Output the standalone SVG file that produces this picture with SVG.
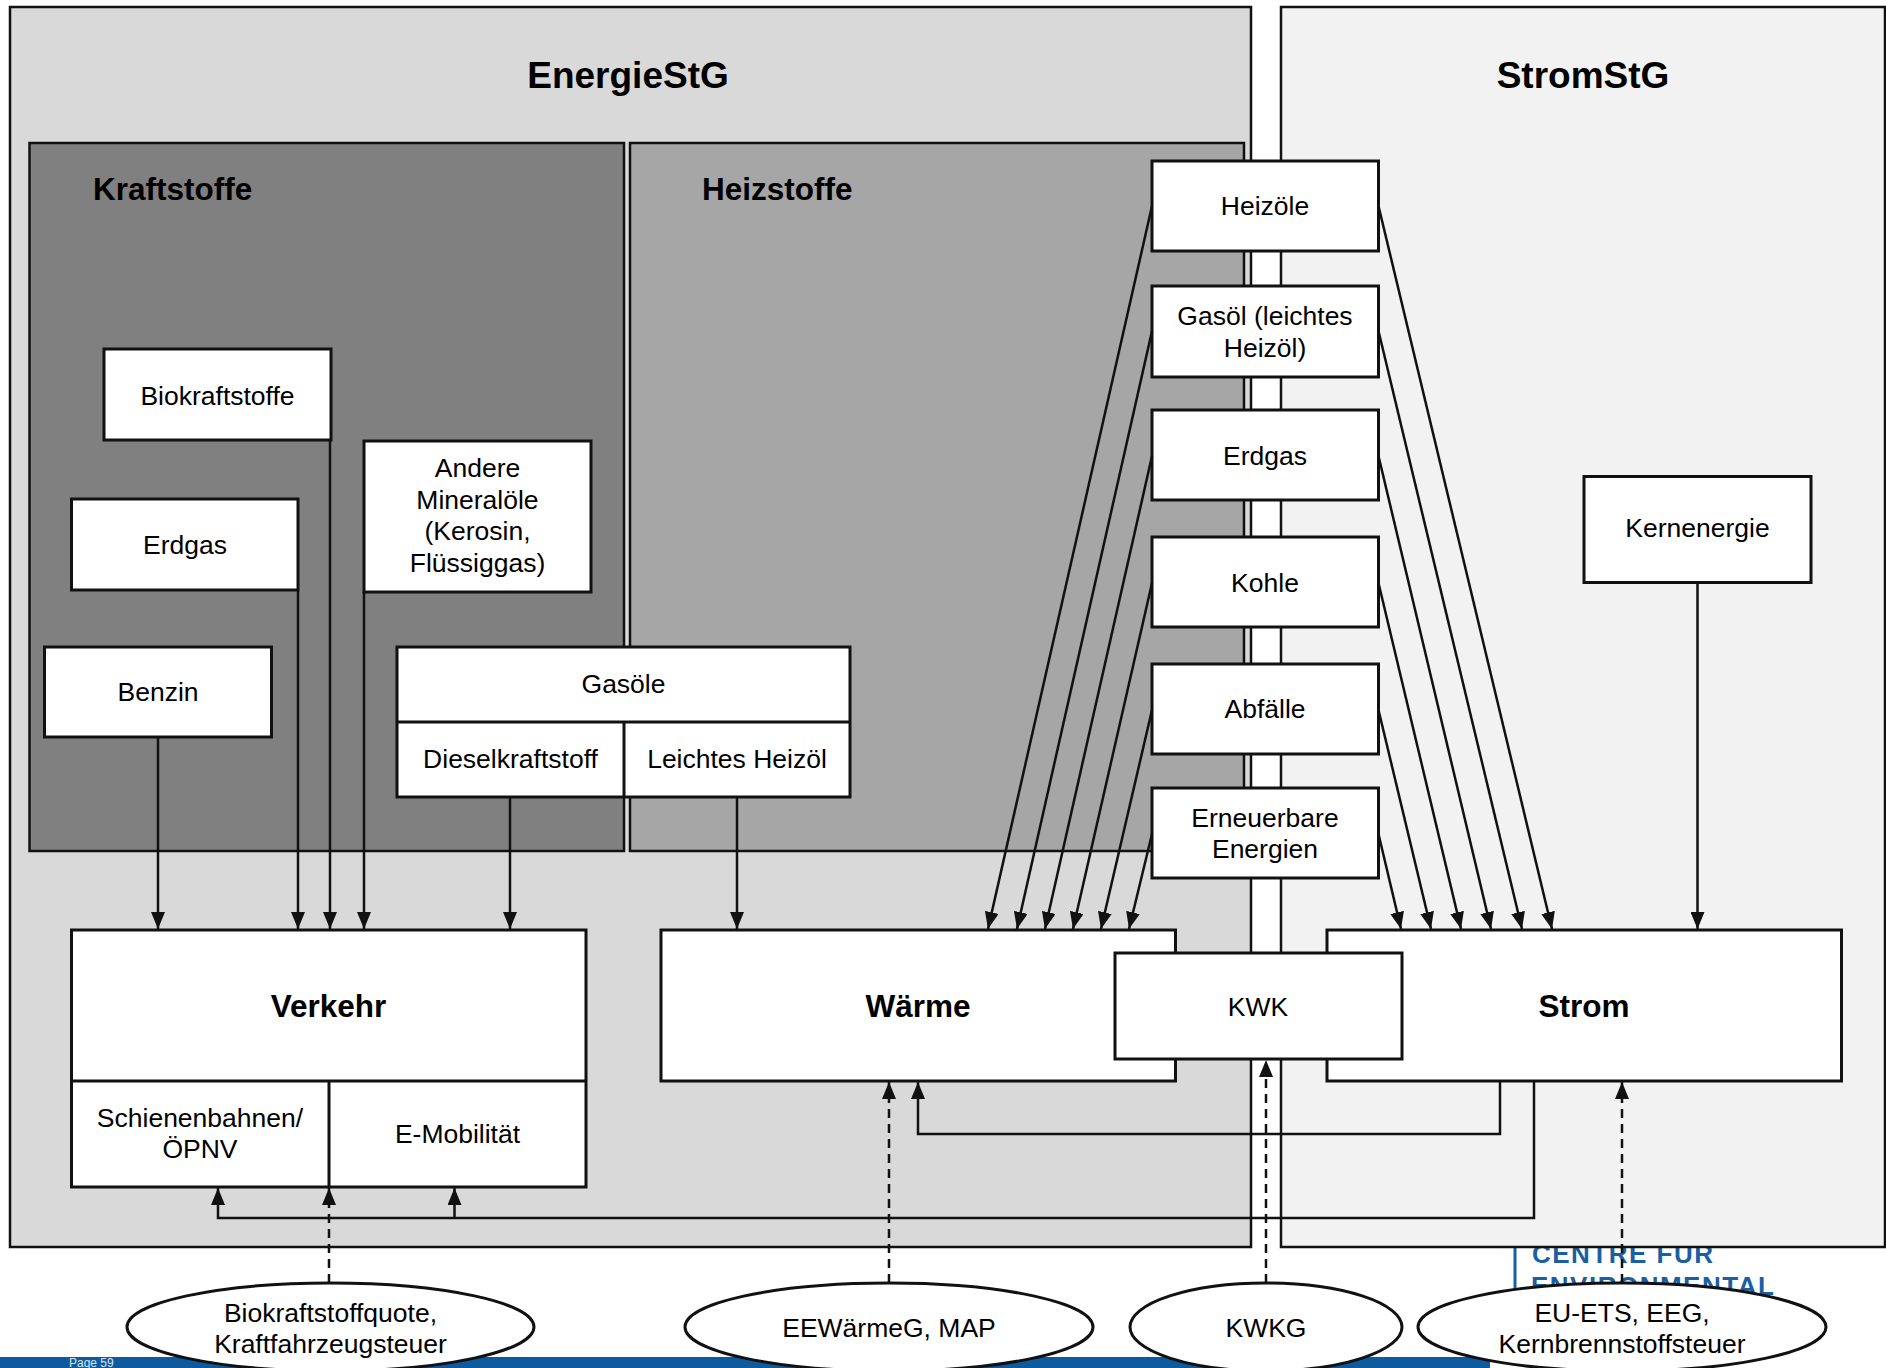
<svg xmlns="http://www.w3.org/2000/svg" width="1886" height="1368" viewBox="0 0 1886 1368">
<style>
text{font-family:"Liberation Sans",Arial,sans-serif;fill:#000;text-anchor:middle}
.t{font-size:26.5px}
.b{font-size:31.5px;font-weight:bold}
.h{font-size:37px;font-weight:bold}
.box{fill:#fff;stroke:#111;stroke-width:3}
.cont{stroke:#111;stroke-width:2.5}
.ln{fill:none;stroke:#111;stroke-width:2.5}
.ar{fill:none;stroke:#111;stroke-width:2.5;marker-end:url(#ah)}
.da{fill:none;stroke:#111;stroke-width:2.5;stroke-dasharray:9 6;marker-end:url(#ah)}
.ell{fill:#fff;stroke:#111;stroke-width:3}
.logo{font-size:26px;font-weight:bold;fill:#1b5fa3;text-anchor:start;letter-spacing:1.5px}
</style>
<defs>
<marker id="ah" markerUnits="userSpaceOnUse" markerWidth="18" markerHeight="14" refX="17" refY="7" orient="auto">
<path d="M0,0 L17,7 L0,14 z" fill="#111"/>
</marker>
</defs>
<rect width="1886" height="1368" fill="#fff"/>
<g id="footer">
<rect x="0" y="1357" width="1490" height="11" fill="#0d5b9e"/>
<text x="69" y="1367" style="font-size:12px;fill:#dbe5ef;text-anchor:start">Page 59</text>
<rect x="1513.5" y="1248" width="3" height="52" fill="#1b5fa3"/>
<text class="logo" x="1532" y="1263">CENTRE FÜR</text>
<text class="logo" x="1531" y="1295">ENVIRONMENTAL</text>
</g>
<g id="energiestg">
<rect class="cont" x="10" y="7" width="1241" height="1240" fill="#d9d9d9"/>
<text class="h" x="628" y="88">EnergieStG</text>
</g>
<g id="stromstg">
<rect class="cont" x="1281" y="7" width="604" height="1240" fill="#f2f2f2"/>
<text class="h" x="1583" y="88">StromStG</text>
</g>
<g id="kraftstoffe">
<rect class="cont" x="29.5" y="143" width="594.5" height="708" fill="#808080"/>
<text class="b" x="93" y="200" style="text-anchor:start">Kraftstoffe</text>
</g>
<g id="heizstoffe">
<rect class="cont" x="630" y="143" width="614" height="708" fill="#a6a6a6"/>
<text class="b" x="702" y="200" style="text-anchor:start">Heizstoffe</text>
</g>
<g id="biokraftstoffe">
<rect class="box" x="104" y="349" width="227" height="91"/>
<text class="t" x="217.5" y="405">Biokraftstoffe</text>
</g>
<g id="andere">
<rect class="box" x="364" y="441" width="227" height="151"/>
<text class="t" x="477.5" y="477">Andere</text>
<text class="t" x="477.5" y="509">Mineralöle</text>
<text class="t" x="477.5" y="540">(Kerosin,</text>
<text class="t" x="477.5" y="572">Flüssiggas)</text>
</g>
<g id="erdgas-k">
<rect class="box" x="71.5" y="499" width="226.5" height="91"/>
<text class="t" x="185" y="554">Erdgas</text>
</g>
<g id="benzin">
<rect class="box" x="44.5" y="647" width="227" height="90"/>
<text class="t" x="158" y="701">Benzin</text>
</g>
<g id="gasoele">
<rect class="box" x="397" y="647" width="453" height="150"/>
<line class="ln" x1="397" y1="722" x2="850" y2="722" style="stroke-width:3"/>
<line class="ln" x1="624" y1="722" x2="624" y2="797" style="stroke-width:3"/>
<text class="t" x="623.5" y="693">Gasöle</text>
<text class="t" x="510.5" y="768">Dieselkraftstoff</text>
<text class="t" x="737" y="768">Leichtes Heizöl</text>
</g>
<g id="heizoele">
<rect class="box" x="1152" y="161" width="226.5" height="90"/>
<text class="t" x="1265" y="215">Heizöle</text>
</g>
<g id="gasoel">
<rect class="box" x="1152" y="286" width="226.5" height="91"/>
<text class="t" x="1265" y="325">Gasöl (leichtes</text>
<text class="t" x="1265" y="357">Heizöl)</text>
</g>
<g id="erdgas-s">
<rect class="box" x="1152" y="410" width="226.5" height="90"/>
<text class="t" x="1265" y="465">Erdgas</text>
</g>
<g id="kohle">
<rect class="box" x="1152" y="537" width="226.5" height="90"/>
<text class="t" x="1265" y="592">Kohle</text>
</g>
<g id="abfaelle">
<rect class="box" x="1152" y="664" width="226.5" height="90"/>
<text class="t" x="1265" y="718">Abfälle</text>
</g>
<g id="erneuerbare">
<rect class="box" x="1152" y="788" width="226.5" height="90"/>
<text class="t" x="1265" y="827">Erneuerbare</text>
<text class="t" x="1265" y="858">Energien</text>
</g>
<g id="kernenergie">
<rect class="box" x="1584" y="476.5" width="227" height="106"/>
<text class="t" x="1697.5" y="537">Kernenergie</text>
</g>
<g id="verkehr">
<rect class="box" x="71.5" y="930" width="514.5" height="257"/>
<line class="ln" x1="71.5" y1="1081" x2="586" y2="1081" style="stroke-width:3"/>
<line class="ln" x1="329" y1="1081" x2="329" y2="1187" style="stroke-width:3"/>
<text class="b" x="328.5" y="1017">Verkehr</text>
<text class="t" x="200" y="1127">Schienenbahnen/</text>
<text class="t" x="200" y="1158">ÖPNV</text>
<text class="t" x="457.5" y="1143">E-Mobilität</text>
</g>
<g id="waerme">
<rect class="box" x="661" y="930" width="514.5" height="151"/>
<text class="b" x="918" y="1017">Wärme</text>
</g>
<g id="strom">
<rect class="box" x="1327" y="930" width="514.5" height="151"/>
<text class="b" x="1584" y="1017">Strom</text>
</g>
<g id="kwk">
<rect class="box" x="1115" y="953" width="287" height="106"/>
<text class="t" x="1258" y="1016">KWK</text>
</g>
<g id="connectors">
<path class="ar" d="M158,737 V929"/>
<path class="ar" d="M298,590 V929"/>
<path class="ar" d="M330,440 V929"/>
<path class="ar" d="M364,592 V929"/>
<path class="ar" d="M510,797 V929"/>
<path class="ar" d="M737,797 V929"/>
<path class="ar" d="M1152,206 L988,929"/>
<path class="ar" d="M1152,331 L1017,929"/>
<path class="ar" d="M1152,456 L1045,929"/>
<path class="ar" d="M1152,583 L1073,929"/>
<path class="ar" d="M1152,710 L1101,929"/>
<path class="ar" d="M1152,834 L1129,929"/>
<path class="ar" d="M1378.5,206 L1552,929"/>
<path class="ar" d="M1378.5,331 L1522,929"/>
<path class="ar" d="M1378.5,456 L1491,929"/>
<path class="ar" d="M1378.5,583 L1461,929"/>
<path class="ar" d="M1378.5,710 L1431,929"/>
<path class="ar" d="M1378.5,834 L1401,929"/>
<path class="ar" d="M1697.5,582.5 V929"/>
<path class="ar" d="M1534,1081 V1218 H218 V1188"/>
<path class="ar" d="M454.5,1218 V1188"/>
<path class="ar" d="M1500,1081 V1134 H918 V1082"/>
<path class="da" d="M329,1283 V1188"/>
<path class="da" d="M889,1283 V1082"/>
<path class="da" d="M1266,1283 V1060"/>
<path class="da" d="M1622,1283 V1082"/>
</g>
<g id="biokraftstoffquote">
<ellipse class="ell" cx="330.5" cy="1327" rx="203.5" ry="44"/>
<text class="t" x="330.5" y="1322">Biokraftstoffquote,</text>
<text class="t" x="330.5" y="1353">Kraftfahrzeugsteuer</text>
</g>
<g id="eewaermeg">
<ellipse class="ell" cx="889" cy="1327" rx="204" ry="44"/>
<text class="t" x="889" y="1337">EEWärmeG, MAP</text>
</g>
<g id="kwkg">
<ellipse class="ell" cx="1266" cy="1327" rx="136" ry="44"/>
<text class="t" x="1266" y="1337">KWKG</text>
</g>
<g id="euets">
<ellipse class="ell" cx="1622" cy="1327" rx="204" ry="44"/>
<text class="t" x="1622" y="1322">EU-ETS, EEG,</text>
<text class="t" x="1622" y="1353">Kernbrennstoffsteuer</text>
</g>
</svg>
